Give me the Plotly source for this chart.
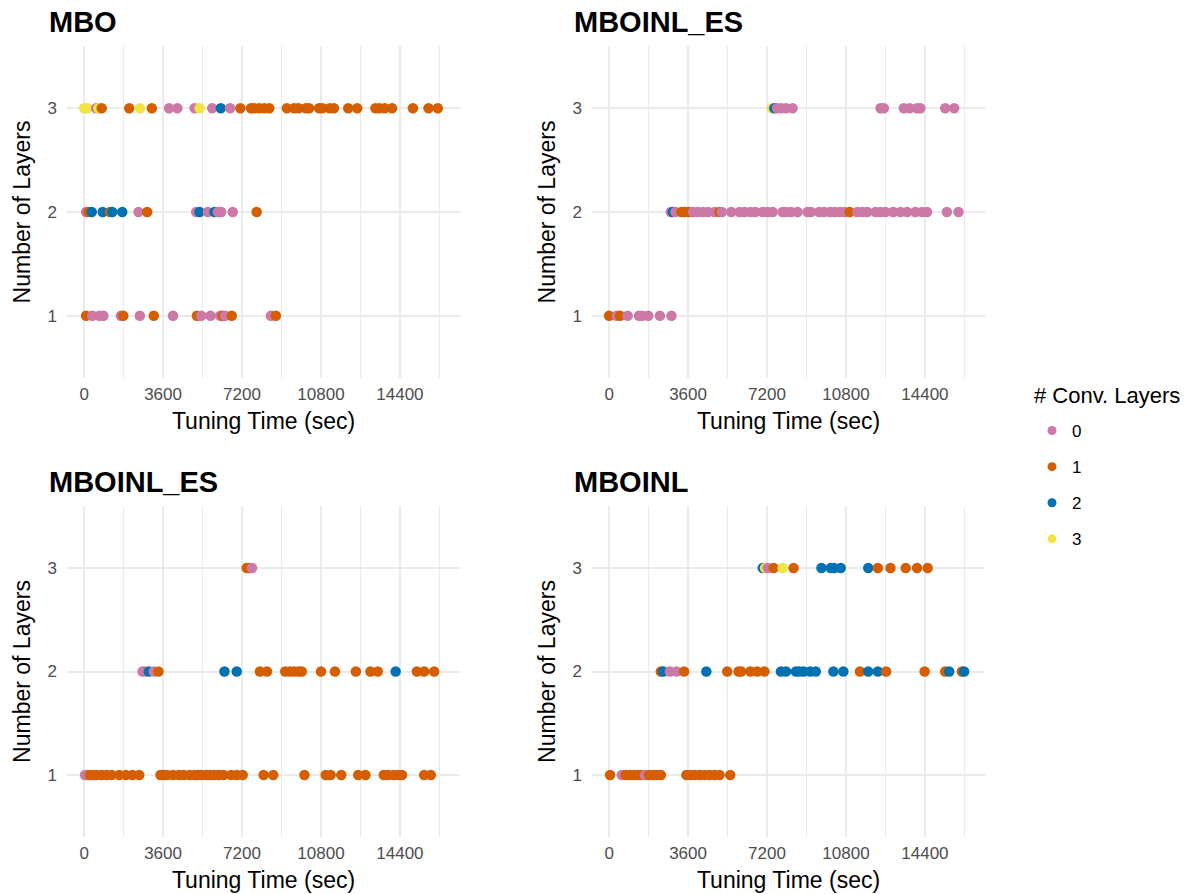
import plotly.graph_objects as go

# ---------------- data ----------------
conv_levels = [0, 1, 2, 3]
conv_colors = ["#CC79A7", "#D55E00", "#0072B2", "#F0E442"]
x_ticks = [0, 3600, 7200, 10800, 14400]
x_minor = [1800, 5400, 9000, 12600, 16200]
y_ticks = [1, 2, 3]
panel_titles = ["MBO", "MBOINL_ES", "MBOINL_ES", "MBOINL"]

# Panel 1: MBO
mbo_time = [0, 151, 545, 650, 802, 2058, 2542, 3087, 3873, 4252, 5038, 5265, 5840, 6233, 6657,
            7126, 7610, 7762, 7989, 8216, 8443, 9244, 9577, 9774, 10107, 10258, 10712, 10863,
            11196, 11392, 12043, 12452, 13284, 13466, 13708, 14041, 14993, 15705, 16129,
            91, 197, 348, 847, 1180, 1286, 1740, 2481, 2875, 5114, 5265, 5643, 5946, 6097, 6249,
            6778, 7868,
            91, 378, 696, 878, 1679, 1785, 2542, 3177, 4055, 5144, 5341, 5765, 6203, 6324, 6430,
            6733, 8518, 8745]
mbo_layers = [3] * 39 + [2] * 17 + [1] * 18
mbo_conv = [3, 3, 0, 3, 1, 1, 3, 1, 0, 0, 0, 3, 0, 2, 0,
            1, 1, 1, 1, 1, 1, 1, 1, 1, 1, 1, 1, 1,
            1, 1, 1, 1, 1, 1, 1, 1, 1, 1, 1,
            0, 1, 2, 2, 1, 2, 2, 0, 1, 0, 2, 0, 2, 0, 0,
            0, 1,
            1, 0, 0, 0, 0, 1, 0, 1, 0, 1, 0, 0, 0, 1, 0,
            1, 0, 1]

# Panel 2: MBOINL_ES (top)
es1_time = [7414, 7535, 7656, 7837, 8064, 8367, 12376, 12528, 13435, 13708, 14041, 14192, 15327, 15735,
            2814, 2905, 3026, 3298, 3450, 3631, 3828, 4055, 4282, 4509, 4811, 5038, 5144, 5568,
            5946, 6173, 6445, 6657, 7005, 7232, 7459, 7913, 8064, 8291, 8594, 9048, 9199, 9577,
            9804, 10077, 10288, 10530, 10742, 10969, 11317, 11544, 11771, 12149, 12376, 12603,
            12951, 13284, 13587, 13965, 14268, 14495, 15402, 15932,
            0, 348, 499, 847, 1362, 1513, 1785, 2315, 2844]
es1_layers = [3] * 14 + [2] * 48 + [1] * 9
es1_conv = [3, 2, 0, 0, 0, 0, 0, 0, 0, 0, 0, 0, 0, 0,
            0, 2, 0, 1, 1, 1, 0, 0, 0, 0, 0, 1, 0, 0,
            0, 0, 0, 0, 0, 0, 0, 0, 0, 0, 0, 0, 0, 0,
            0, 0, 0, 0, 0, 1, 0, 0, 0, 0, 0, 0,
            0, 0, 0, 0, 0, 0, 0, 0,
            1, 0, 1, 0, 0, 0, 0, 0, 0]

# Panel 3: MBOINL_ES (bottom)
es2_time = [7414, 7505, 7656,
            2663, 2769, 2950, 3177, 3389, 6400, 6960, 8019, 8337, 9169, 9380, 9577, 9774, 9925,
            10803, 11438, 12391, 13057, 13390, 14207, 15175, 15508, 15962,
            45, 151, 272, 424, 575, 802, 1029, 1256, 1604, 1906, 2209, 2512, 3480, 3631, 3783,
            4055, 4327, 4539, 4811, 5038, 5190, 5341, 5568, 5749, 5946, 6143, 6355, 6703, 6960,
            7232, 8185, 8624, 10046, 11015, 11242, 11726, 12497, 12830, 13662, 13859, 14116,
            14313, 14495, 15508, 15811]
es2_layers = [3] * 3 + [2] * 23 + [1] * 45
es2_conv = [1, 1, 0,
            0, 0, 2, 0, 1, 2, 2, 1, 1, 1, 1, 1, 1, 1,
            1, 1, 1, 1, 1, 2, 1, 1, 1,
            0, 0, 1, 1, 1, 1, 1, 1, 1, 1, 1, 1, 1, 1, 1,
            1, 1, 1, 1, 1, 1, 1, 1, 1, 1, 1, 1, 1, 1,
            1, 1, 1, 1, 1, 1, 1, 1, 1, 1, 1, 1,
            1, 1, 1, 1]

# Panel 4: MBOINL
nl_time = [7005, 7111, 7232, 7505, 7913, 8412, 9683, 10107, 10258, 10561, 11817, 12255, 12830,
           13526, 14041, 14525,
           2360, 2466, 2769, 3071, 3419, 4433, 5386, 5901, 6022, 6445, 6748, 7081, 7837, 8064,
           8518, 8670, 8866, 9169, 9425, 10228, 10682, 11438, 11817, 12255, 12633, 14389, 15327,
           15508, 16083, 16189,
           45, 575, 757, 953, 1150, 1331, 1483, 1634, 1816, 2012, 2209, 2360, 3525, 3722, 3904,
           4131, 4358, 4584, 4811, 5038, 5522]
nl_layers = [3] * 16 + [2] * 30 + [1] * 21
nl_conv = [2, 3, 0, 1, 3, 1, 2, 2, 2, 2, 2, 1, 1,
           1, 1, 1,
           1, 2, 0, 0, 1, 2, 1, 1, 1, 1, 1, 1, 2, 2,
           2, 2, 2, 2, 2, 2, 2, 1, 2, 2, 1, 1, 1,
           2, 1, 2,
           1, 0, 1, 1, 1, 1, 1, 0, 1, 1, 1, 1, 1, 1, 1,
           1, 1, 1, 1, 1, 1]

panels = [(mbo_time, mbo_layers, mbo_conv),
          (es1_time, es1_layers, es1_conv),
          (es2_time, es2_layers, es2_conv),
          (nl_time, nl_layers, nl_conv)]

# ---------------- figure ----------------
W, H = 1193, 894
FONT = "Liberation Sans, Arial, Helvetica, sans-serif"
color_map = dict(zip(conv_levels, conv_colors))

x_domains = [[67 / W, 460 / W], [592 / W, 985 / W]]
y_domains = [[1 - 378 / H, 1 - 46 / H], [1 - 837 / H, 1 - 506 / H]]

fig = go.Figure()
layout_axes = {}
annotations = []
for i, (t, l, c) in enumerate(panels):
    n = i + 1
    xs = "x" if n == 1 else f"x{n}"
    ys = "y" if n == 1 else f"y{n}"
    fig.add_trace(go.Scatter(
        x=t, y=l, mode="markers", xaxis=xs, yaxis=ys, showlegend=False,
        marker=dict(size=10.5, color=[color_map[v] for v in c], line=dict(width=0)),
        hovertemplate="%{x}<extra></extra>"))
    xd = x_domains[i % 2]
    yd = y_domains[i // 2]
    xkey = "xaxis" if n == 1 else f"xaxis{n}"
    ykey = "yaxis" if n == 1 else f"yaxis{n}"
    layout_axes[xkey] = dict(
        domain=xd, anchor=ys, range=[-780, 17140], tickvals=x_ticks,
        ticktext=[str(v) for v in x_ticks], showgrid=True, gridcolor="#EBEBEB", gridwidth=1.6,
        zeroline=False, showline=False, ticks="", ticklabelstandoff=4, automargin=False,
        tickfont=dict(family=FONT, size=17, color="#4D4D4D"),
        minor=dict(tickvals=x_minor, showgrid=True, gridcolor="#EBEBEB", gridwidth=0.9, ticks=""),
        title=dict(text="Tuning Time (sec)", font=dict(family=FONT, size=23, color="black"), standoff=9),
    )
    layout_axes[ykey] = dict(
        domain=yd, anchor=xs, range=[0.4, 3.6], tickvals=y_ticks,
        showgrid=True, gridcolor="#EBEBEB", gridwidth=1.6, zeroline=False, showline=False,
        ticks="", ticklabelstandoff=9, automargin=False,
        tickfont=dict(family=FONT, size=17, color="#4D4D4D"),
        title=dict(text="Number of Layers", font=dict(family=FONT, size=23, color="black"), standoff=10),
    )
    annotations.append(dict(
        text=f"<b>{panel_titles[i]}</b>", xref="paper", yref="paper",
        x=(47 if i % 2 == 0 else 572) / W, y=1 - (22 if i < 2 else 482) / H,
        xanchor="left", yanchor="middle", showarrow=False,
        font=dict(family=FONT, size=29, color="black")))

# legend title as text
annotations.append(dict(
    text="# Conv. Layers", xref="paper", yref="paper", x=1032 / W, y=1 - 395 / H,
    xanchor="left", yanchor="middle", showarrow=False,
    font=dict(family=FONT, size=22, color="black")))

# legend-only traces
for lev, col in zip(conv_levels, conv_colors):
    fig.add_trace(go.Scatter(
        x=[None], y=[None], mode="markers", name=str(lev), legendgroup=str(lev),
        marker=dict(size=9, color=col), showlegend=True))

fig.update_layout(
    width=W, height=H, margin=dict(l=0, r=0, t=0, b=0, autoexpand=False),
    paper_bgcolor="white", plot_bgcolor="white",
    annotations=annotations,
    legend=dict(
        font=dict(family=FONT, size=17, color="black"),
        x=1032 / W, y=1 - 413 / H, xanchor="left", yanchor="top",
        tracegroupgap=11, bgcolor="rgba(0,0,0,0)"),
    **layout_axes,
)

fig.write_html("out.html", config={"displayModeBar": False},
               post_script="document.body.style.margin='0';document.body.style.padding='0';")
